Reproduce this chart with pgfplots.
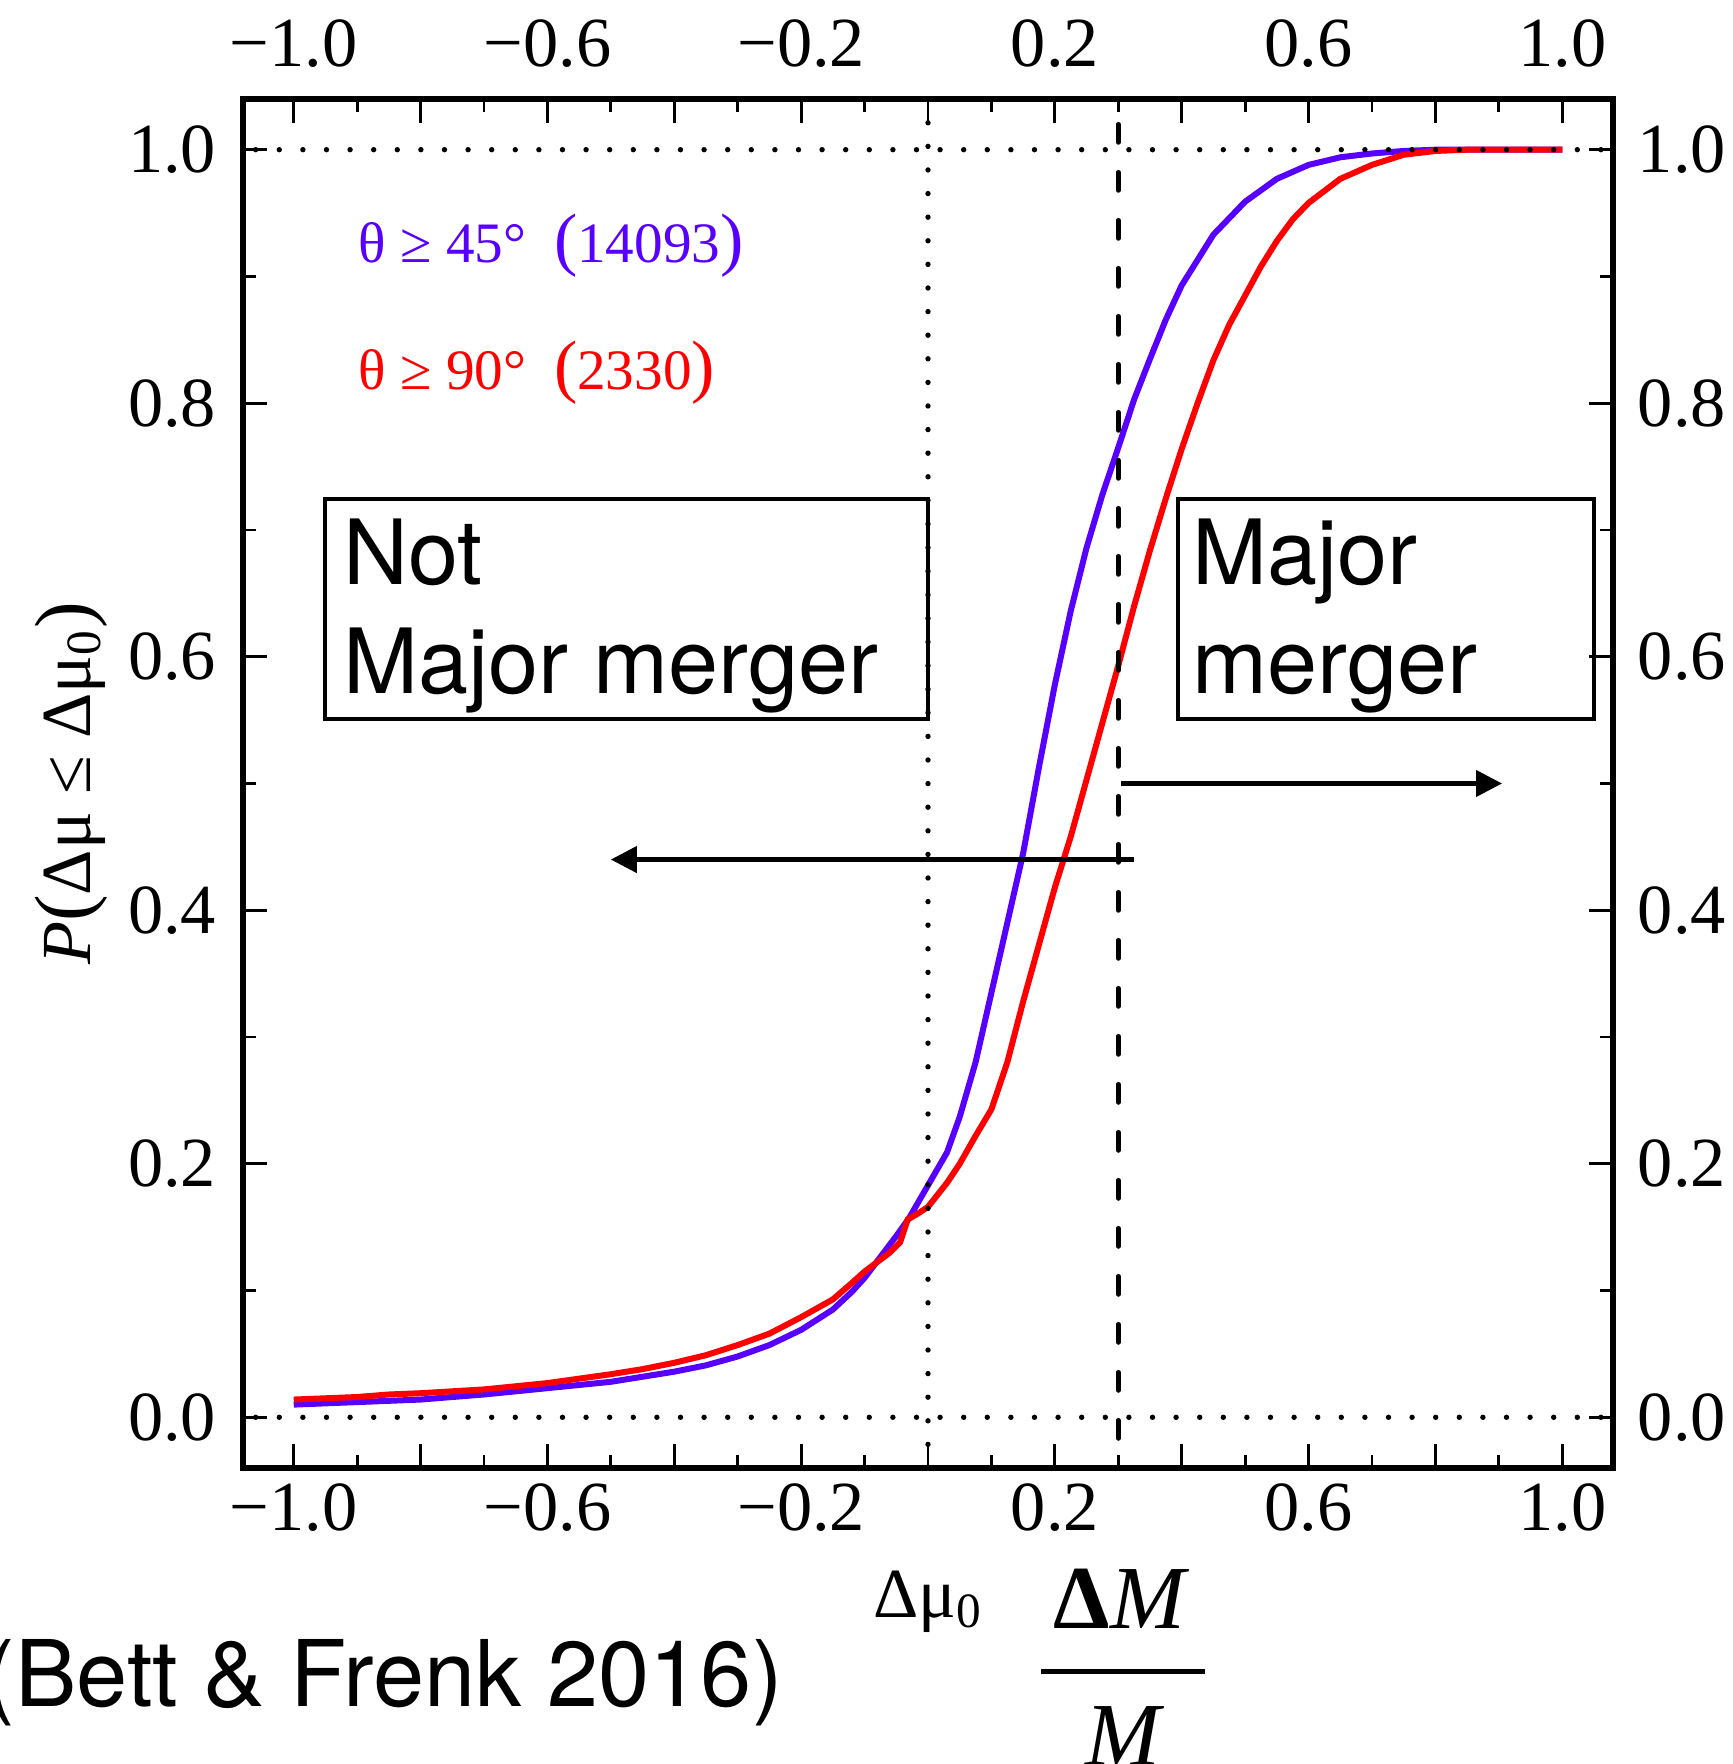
\documentclass[border=0pt]{standalone}
\usepackage{fontspec}
\setmainfont{Liberation Serif}
\newfontfamily\heros{TeX Gyre Heros}
\usepackage{pgfplots}
\pgfplotsset{compat=1.18}
\usetikzlibrary{arrows.meta}

\definecolor{thpurple}{RGB}{88,0,255}
\definecolor{thred}{RGB}{255,0,0}

% cumulative distributions
\pgfplotstableread{
x y
-1.00 0.010
-0.90 0.012
-0.80 0.014
-0.70 0.018
-0.60 0.023
-0.50 0.028
-0.40 0.036
-0.35 0.041
-0.30 0.048
-0.25 0.057
-0.20 0.069
-0.15 0.085
-0.12 0.099
-0.10 0.110
-0.05 0.143
-0.03 0.157
0.000 0.183
0.030 0.209
0.050 0.237
0.075 0.280
0.100 0.335
0.125 0.390
0.150 0.445
0.175 0.513
0.200 0.578
0.225 0.636
0.250 0.686
0.275 0.728
0.300 0.765
0.325 0.803
0.350 0.835
0.375 0.866
0.400 0.893
0.450 0.933
0.500 0.959
0.550 0.977
0.600 0.988
0.650 0.994
0.700 0.997
0.750 0.999
0.800 1.000
1.000 1.000
}\blue

\pgfplotstableread{
x y
-1.00 0.014
-0.95 0.015
-0.90 0.016
-0.85 0.018
-0.80 0.019
-0.70 0.022
-0.60 0.027
-0.50 0.034
-0.45 0.038
-0.40 0.043
-0.35 0.049
-0.30 0.057
-0.25 0.066
-0.20 0.079
-0.15 0.093
-0.12 0.106
-0.10 0.115
-0.06 0.130
-0.044 0.138
-0.032 0.156
-0.015 0.161
0.000 0.166
0.030 0.185
0.050 0.200
0.075 0.222
0.100 0.243
0.125 0.280
0.150 0.328
0.175 0.373
0.200 0.418
0.225 0.458
0.250 0.503
0.275 0.548
0.300 0.593
0.325 0.640
0.350 0.684
0.375 0.725
0.400 0.764
0.425 0.800
0.450 0.834
0.475 0.862
0.500 0.885
0.525 0.908
0.550 0.928
0.575 0.945
0.600 0.958
0.650 0.977
0.700 0.988
0.750 0.996
0.800 0.999
0.850 1.000
1.000 1.000
}\red

\tikzset{
  dotline/.style={line width=1.35pt, line cap=round, dash pattern=on 0pt off 5.9pt},
  dashline/.style={line width=1.2pt, line cap=round, dash pattern=on 4.5pt off 7.5pt},
  arr/.style={line width=1.1pt, -{Triangle[length=6.5pt,width=6.5pt]}},
}

\begin{document}
\begin{tikzpicture}
\begin{axis}[
  scale only axis,
  width=342.5pt, height=342.25pt,
  xmin=-1.08, xmax=1.08, ymin=-0.04, ymax=1.04,
  clip=false,
  axis line style={line width=1.35pt},
  tick align=inside,
  xtick={-1,-0.8,-0.6,-0.4,-0.2,0,0.2,0.4,0.6,0.8,1},
  xticklabels={−1.0,,−0.6,,−0.2,,0.2,,0.6,,1.0},
  ytick={0,0.2,0.4,0.6,0.8,1},
  yticklabels={0.0,0.2,0.4,0.6,0.8,1.0},
  minor x tick num=1, minor y tick num=1,
  major tick length=6pt, minor tick length=3.2pt,
  every tick/.style={black, line width=0.7pt},
  tick label style={font=\fontsize{17.6}{20}\selectfont},
  xticklabel style={inner sep=0pt, yshift=-3.7pt},
  yticklabel style={inner sep=0pt, xshift=-6.5pt},
  ylabel={\textit{P}{\fontsize{20}{22}\selectfont(}Δμ ≤ Δμ\textsubscript{0}{\fontsize{20}{22}\selectfont)}},
  ylabel style={at={(axis description cs:-0.1255,0.5)}, anchor=center,
    font=\fontsize{17.6}{20}\selectfont},
]
\addplot[thpurple, line width=1.5pt] table[x=x, y=y] {\blue};
\addplot[thred, line width=1.5pt] table[x=x, y=y] {\red};

\draw[dotline] (axis cs:-1.06,0) -- (axis cs:1.08,0);
\draw[dotline] (axis cs:-1.06,1) -- (axis cs:1.08,1);
\draw[dotline] (axis cs:0,-0.04) -- (axis cs:0,1.04);
\draw[dashline] (axis cs:0.3,1.02) -- (axis cs:0.3,-0.04);

\draw[arr] (axis cs:0.305,0.5) -- (axis cs:0.905,0.5);
\draw[arr] (axis cs:0.325,0.44) -- (axis cs:-0.5,0.44);

\draw[line width=1pt] (axis cs:-0.95,0.551) rectangle (axis cs:0,0.7245);
\draw[line width=1pt] (axis cs:0.394,0.551) rectangle (axis cs:1.05,0.7245);
\node[anchor=base west, inner sep=0pt, font=\heros\fontsize{22.5}{24}\selectfont] at (axis cs:-0.923,0.657) {Not};
\node[anchor=base west, inner sep=0pt, font=\heros\fontsize{22.5}{24}\selectfont] at (axis cs:-0.923,0.571) {Major merger};
\node[anchor=base west, inner sep=0pt, font=\heros\fontsize{22.5}{24}\selectfont] at (axis cs:0.416,0.657) {Major};
\node[anchor=base west, inner sep=0pt, font=\heros\fontsize{22.5}{24}\selectfont] at (axis cs:0.416,0.571) {merger};

\node[anchor=base west, inner sep=0pt, text=thpurple, font=\fontsize{14.3}{16}\selectfont] at (axis cs:-0.899,0.911) {θ ≥ 45°\hspace{7pt}{\fontsize{17.5}{18}\selectfont(}14093{\fontsize{17.5}{18}\selectfont)}};
\node[anchor=base west, inner sep=0pt, text=thred, font=\fontsize{14.3}{16}\selectfont] at (axis cs:-0.899,0.8106) {θ ≥ 90°\hspace{7pt}{\fontsize{17.5}{18}\selectfont(}2330{\fontsize{17.5}{18}\selectfont)}};

\node[anchor=base, inner sep=0pt, font=\fontsize{17.6}{20}\selectfont] at (axis cs:0,-0.158) {Δμ\textsubscript{0}};
\node[anchor=base, inner sep=0pt, font=\fontsize{22.5}{24}\selectfont] at (axis cs:0.305,-0.1665) {\textbf{Δ}\textit{M}};
\draw[line width=1.3pt] (axis cs:0.178,-0.2005) -- (axis cs:0.437,-0.2005);
\node[anchor=base, inner sep=0pt, font=\fontsize{22.5}{24}\selectfont] at (axis cs:0.311,-0.275) {\textit{M}};
\node[anchor=base, inner sep=0pt, font=\heros\fontsize{23}{26}\selectfont] at (axis cs:-0.858,-0.228) {(Bett \& Frenk 2016)};
\end{axis}

% top and right tick labels
\begin{axis}[
  scale only axis,
  width=342.5pt, height=342.25pt,
  xmin=-1.08, xmax=1.08, ymin=-0.04, ymax=1.04,
  axis line style={draw=none},
  xtick={-1,-0.8,-0.6,-0.4,-0.2,0,0.2,0.4,0.6,0.8,1},
  xticklabels={−1.0,,−0.6,,−0.2,,0.2,,0.6,,1.0},
  ytick={0,0.2,0.4,0.6,0.8,1},
  yticklabels={0.0,0.2,0.4,0.6,0.8,1.0},
  xticklabel pos=right, yticklabel pos=right,
  major tick length=0pt,
  tick style={draw=none},
  tick label style={font=\fontsize{17.6}{20}\selectfont},
  xticklabel style={inner sep=0pt, yshift=7.75pt},
  yticklabel style={inner sep=0pt, xshift=6pt},
]
\end{axis}

\pgfresetboundingbox
\path[use as bounding box] (-60.75pt,-74pt) rectangle (372.25pt,367pt);
\end{tikzpicture}
\end{document}
